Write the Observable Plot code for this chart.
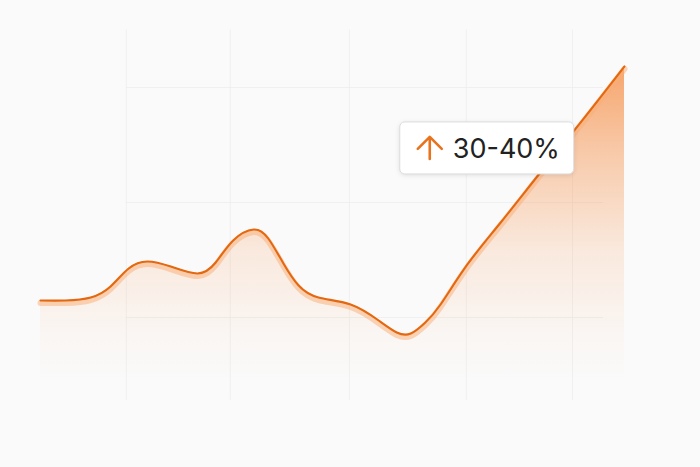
<!DOCTYPE html>
<html>
<head>
<meta charset="utf-8">
<script src="https://cdn.jsdelivr.net/npm/d3@7"></script>
<script src="https://cdn.jsdelivr.net/npm/@observablehq/plot@0.6"></script>
<style>
  html, body { margin: 0; padding: 0; background: #fafafa; }
  #chart svg { display: block; background: #fafafa; }
</style>
</head>
<body>
<div id="chart"></div>
<script>
// Series (x: position 0–100 along the period, y: relative value)
const xs = [0, 4.3, 8.6, 12.0, 15.1, 18.3, 22.3, 26.9, 30.0, 33.0, 36.5, 39.0, 41.6, 44.2, 47.6, 53.1, 57.9, 61.0, 63.4, 65.9, 68.5, 73.1, 78.8, 85.6, 92.5, 100];
const ys = [14.8, 14.8, 17.4, 27.0, 42.6, 48.7, 44.3, 38.3, 47.8, 67.0, 76.5, 68.7, 47.0, 27.8, 17.4, 11.3, -2.6, -13.0, -13.9, -4.3, 11.3, 46.1, 82.6, 126.1, 169.6, 218.3];

// Grid positions
const gridX = [14.7, 32.5, 52.9, 72.9, 91.1];
const gridY = [0, 100, 200];

// Annotation
const labelX = [76.5];
const labelY = [147];
const labelText = ["30-40%"];

const data = xs.map((x, i) => ({x, y: ys[i]}));

const defs = () => {
  const ns = "http://www.w3.org/2000/svg";
  const d = document.createElementNS(ns, "defs");
  const g = document.createElementNS(ns, "linearGradient");
  g.setAttribute("id", "areaGrad");
  g.setAttribute("gradientUnits", "userSpaceOnUse");
  g.setAttribute("x1", 0); g.setAttribute("x2", 0);
  g.setAttribute("y1", 60); g.setAttribute("y2", 380);
  [[0, 0.78], [0.3, 0.42], [0.6, 0.15], [0.85, 0.04], [1, 0]].forEach(([o, a]) => {
    const s = document.createElementNS(ns, "stop");
    s.setAttribute("offset", o);
    s.setAttribute("stop-color", "#f58a3f");
    s.setAttribute("stop-opacity", a);
    g.appendChild(s);
  });
  d.appendChild(g);
  return d;
};

const annotation = (index, scales) => {
  const g = d3.create("svg:g");
  labelText.forEach((t, i) => {
    const cx = scales.x(labelX[i]), cy = scales.y(labelY[i]);
    g.append("rect")
      .attr("x", cx - 87).attr("y", cy - 26)
      .attr("width", 174).attr("height", 52)
      .attr("rx", 5)
      .attr("fill", "#ffffff")
      .attr("stroke", "#dcdcdc")
      .style("filter", "drop-shadow(0 1px 2px rgba(0,0,0,0.10))");
    g.append("path")
      .attr("d", `M${cx - 57},${cy + 11}V${cy - 11}M${cx - 69},${cy + 1}L${cx - 57},${cy - 11}L${cx - 45},${cy + 1}`)
      .attr("fill", "none")
      .attr("stroke", "#e8731c")
      .attr("stroke-width", 2.6)
      .attr("stroke-linecap", "round")
      .attr("stroke-linejoin", "round");
    g.append("text")
      .attr("x", cx - 34).attr("y", cy + 10)
      .attr("text-anchor", "start")
      .attr("font-family", "Inter, 'Noto Sans', sans-serif")
      .attr("font-size", 27)
      .attr("fill", "#222222")
      .text(t);
  });
  return g.node();
};

const chart = Plot.plot({
  width: 700,
  height: 467,
  marginLeft: 40,
  marginRight: 76,
  marginTop: 64,
  marginBottom: 35,
  x: {domain: [0, 100], axis: null},
  y: {domain: [-100, 220], axis: null},
  style: {background: "#fafafa", overflow: "visible"},
  marks: [
    defs,
    Plot.ruleX(gridX, {y1: 250, y2: -72, stroke: "#ececec", strokeOpacity: 0.75}),
    Plot.ruleY(gridY, {x1: 14.7, x2: 96.4, stroke: "#ececec", strokeOpacity: 0.75}),
    Plot.areaY(data, {x: "x", y1: -100, y2: "y", fill: "url(#areaGrad)", curve: "natural"}),
    Plot.line(data, {x: "x", y: "y", stroke: "#f9ae76", strokeWidth: 6, strokeOpacity: 0.5, dy: 2.5, curve: "natural"}),
    Plot.line(data, {x: "x", y: "y", stroke: "#e3680f", strokeWidth: 2.1, curve: "natural"}),
    annotation
  ]
});

document.getElementById("chart").appendChild(chart);
</script>
</body>
</html>
